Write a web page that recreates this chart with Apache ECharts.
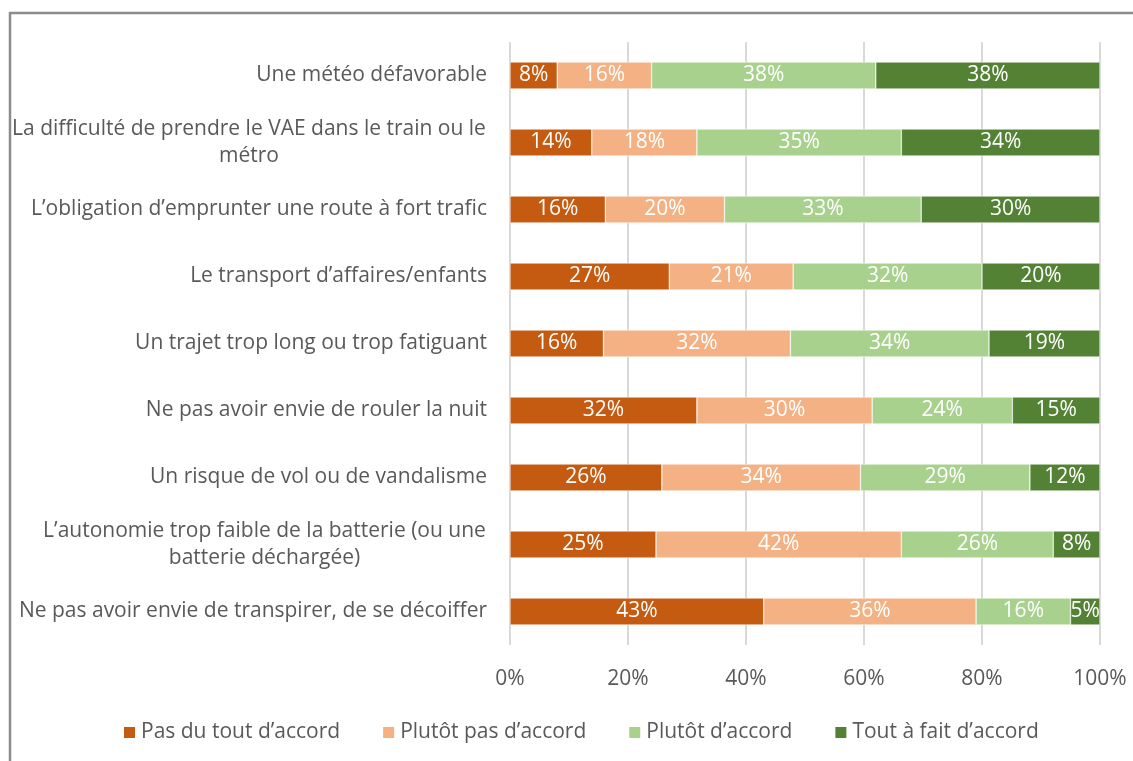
<!DOCTYPE html>
<html>
<head>
<meta charset="utf-8">
<script src="https://cdn.jsdelivr.net/npm/echarts@6/dist/echarts.min.js"></script>
<style>html,body{margin:0;padding:0;background:#fff;}#c{width:1133px;height:761px;}</style>
</head>
<body>
<div id="c"></div>
<script>
const categories = [
  "Une météo défavorable",
  "La difficulté de prendre le VAE dans le train ou le\nmétro",
  "L’obligation d’emprunter une route à fort trafic",
  "Le transport d’affaires/enfants",
  "Un trajet trop long ou trop fatiguant",
  "Ne pas avoir envie de rouler la nuit",
  "Un risque de vol ou de vandalisme",
  "L’autonomie trop faible de la batterie (ou une\nbatterie déchargée)",
  "Ne pas avoir envie de transpirer, de se décoiffer"
];
const seriesNames = ["Pas du tout d’accord", "Plutôt pas d’accord", "Plutôt d’accord", "Tout à fait d’accord"];
const pasDuTout   = [8, 14, 16, 27, 16, 32, 26, 25, 43];
const plutotPas   = [16, 18, 20, 21, 32, 30, 34, 42, 36];
const plutot      = [38, 35, 33, 32, 34, 24, 29, 26, 16];
const toutAFait   = [38, 34, 30, 20, 19, 15, 12, 8, 5];
const xTicks = [0, 20, 40, 60, 80, 100];
const colors = ["#C55A11", "#F4B183", "#A9D18E", "#548235"];

const FONT = "Open Sans";
const CAT_SIZE = 21;
const raw = [pasDuTout, plutotPas, plutot, toutAFait];
const totals = categories.map((_, i) => raw.reduce((s, a) => s + a[i], 0));

// measure text for centered multi-line labels
const cv = document.createElement('canvas').getContext('2d');
cv.font = CAT_SIZE + 'px "' + FONT + '"';
const rich = {};
categories.forEach((c, i) => {
  const lines = c.split('\n');
  if (lines.length > 1) {
    const w = Math.max(...lines.map(l => cv.measureText(l).width));
    rich['r' + i] = { width: Math.ceil(w) + 2, align: 'center', fontSize: CAT_SIZE, fontFamily: FONT, color: '#595959', lineHeight: 27 };
  }
});

const chart = echarts.init(document.getElementById('c'));
chart.setOption({
  animation: false,
  backgroundColor: '#fff',
  grid: { left: 510, right: 33, top: 42, bottom: 116, containLabel: false },
  xAxis: {
    type: 'value', min: 0, max: 100, interval: 20,
    axisLine: { show: false }, axisTick: { show: false },
    splitLine: { lineStyle: { color: '#D9D9D9', width: 2 } },
    axisLabel: { formatter: v => v + '%', color: '#595959', fontSize: 21, fontFamily: FONT, margin: 24 }
  },
  yAxis: {
    type: 'category', data: categories, inverse: true,
    axisLine: { show: false }, axisTick: { show: false },
    axisLabel: {
      color: '#595959', fontSize: CAT_SIZE, fontFamily: FONT, margin: 23, lineHeight: 27,
      formatter: (v) => {
        const i = categories.indexOf(v);
        const lines = v.split('\n');
        if (lines.length === 1) return v;
        return lines.map(l => '{r' + i + '|' + l + '}').join('\n');
      },
      rich: rich
    }
  },
  legend: {
    bottom: 13, left: 117, itemWidth: 13, itemHeight: 13, itemGap: 41, icon: 'rect',
    textStyle: { color: '#595959', fontSize: 21, fontFamily: FONT },
    data: seriesNames
  },
  series: raw.map((arr, si) => ({
    name: seriesNames[si], type: 'bar', stack: 'total', barWidth: 27,
    itemStyle: { color: colors[si], borderColor: '#fff', borderWidth: 0.5 },
    label: {
      show: true, position: 'inside', color: '#fff', fontSize: 21, fontFamily: FONT,
      formatter: p => arr[p.dataIndex] + '%'
    },
    data: arr.map((v, i) => v / totals[i] * 100)
  })),
  graphic: [{
    type: 'polyline', silent: true,
    shape: { points: [[10, 770], [10, 13], [1140, 13]] },
    style: { stroke: '#8C8C8C', lineWidth: 2.5, fill: null }
  }]
});
</script>
</body>
</html>
